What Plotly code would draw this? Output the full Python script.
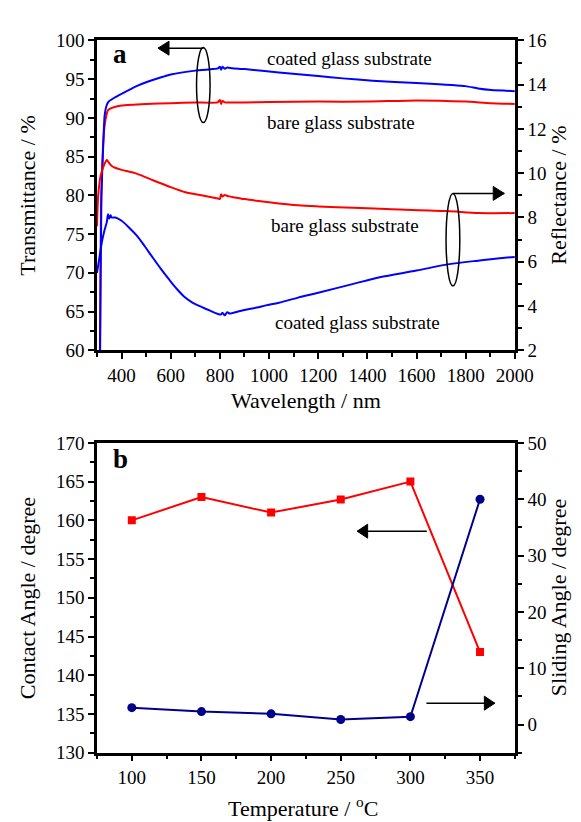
import plotly.graph_objects as go

# ---------------- Panel a data ----------------
wl_T_coated = [300, 312, 318, 325, 331, 338, 345, 351, 371, 400, 461, 500, 568, 600, 700, 770, 792, 800, 805, 810, 820, 830, 850, 900, 1040, 1200, 1300, 1421, 1600, 1799, 1850, 1905, 2000]
T_coated = [40, 60, 80, 86.2, 90.3, 91.5, 92.0, 92.2, 92.6, 93.1, 94.1, 94.6, 95.3, 95.6, 96.1, 96.3, 96.4, 96.6, 96.2, 96.6, 96.35, 96.5, 96.4, 96.3, 95.85, 95.4, 95.1, 94.8, 94.5, 94.1, 93.8, 93.6, 93.45]

wl_T_bare = [300, 310, 313, 316, 324, 331, 338, 345, 371, 400, 500, 600, 700, 790, 800, 805, 810, 820, 900, 1000, 1200, 1400, 1600, 1800, 1900, 2000]
T_bare = [40, 55, 60, 78, 86, 89, 90.3, 91.0, 91.4, 91.6, 91.8, 91.9, 92.0, 92.0, 92.3, 91.8, 92.2, 92.0, 92.0, 92.05, 92.1, 92.1, 92.25, 92.1, 91.9, 91.8]

wl_R_coated = [300, 310, 320, 330, 340, 345, 350, 355, 360, 375, 400, 430, 462, 495, 528, 560, 594, 625, 659, 690, 725, 760, 790, 805, 810, 820, 830, 840, 855, 900, 950, 987, 1040, 1118, 1200, 1343, 1450, 1600, 1721, 1850, 2000]
R_coated = [5.5, 6.2, 6.9, 7.4, 7.8, 8.15, 7.95, 8.1, 8.0, 8.0, 7.85, 7.55, 7.18, 6.69, 6.17, 5.68, 5.19, 4.77, 4.38, 4.14, 3.96, 3.79, 3.65, 3.62, 3.7, 3.58, 3.72, 3.66, 3.7, 3.82, 3.93, 4.03, 4.15, 4.38, 4.6, 5.0, 5.3, 5.6, 5.87, 6.05, 6.22]

wl_R_bare = [300, 305, 315, 330, 340, 344, 350, 360, 371, 400, 461, 530, 595, 660, 725, 792, 800, 805, 810, 820, 830, 850, 900, 1000, 1118, 1200, 1343, 1500, 1721, 1854, 2000]
R_bare = [7.6, 9.0, 9.9, 10.4, 10.6, 10.54, 10.45, 10.33, 10.26, 10.15, 9.98, 9.67, 9.39, 9.14, 9.0, 8.86, 8.84, 9.05, 8.95, 9.02, 8.97, 8.93, 8.83, 8.69, 8.55, 8.5, 8.44, 8.37, 8.29, 8.2, 8.2]

# ---------------- Panel b data ----------------
temperature = [100, 150, 200, 250, 300, 350]
contact_angle = [160, 163, 161, 162.7, 165, 143]
sliding_angle = [3.0, 2.3, 1.9, 0.9, 1.4, 40.0]

FONT = "Liberation Serif"
W, H = 581, 822


def px(x):
    return x / W


def py(y):
    return 1 - y / H


BLUE = "#0000FF"
RED = "#FF0000"
NAVY = "#00008B"

fig = go.Figure()

fig.add_trace(go.Scatter(x=wl_T_bare, y=T_bare, mode="lines", line=dict(color=RED, width=2, shape="spline", smoothing=0.5), xaxis="x", yaxis="y", showlegend=False))
fig.add_trace(go.Scatter(x=wl_T_coated, y=T_coated, mode="lines", line=dict(color=BLUE, width=2, shape="spline", smoothing=0.5), xaxis="x", yaxis="y", showlegend=False))
fig.add_trace(go.Scatter(x=wl_R_bare, y=R_bare, mode="lines", line=dict(color=RED, width=2, shape="spline", smoothing=0.8), xaxis="x", yaxis="y2", showlegend=False))
fig.add_trace(go.Scatter(x=wl_R_coated, y=R_coated, mode="lines", line=dict(color=BLUE, width=2, shape="spline", smoothing=0.9), xaxis="x", yaxis="y2", showlegend=False))

fig.add_trace(go.Scatter(x=temperature, y=contact_angle, mode="lines+markers",
                         line=dict(color=RED, width=2), marker=dict(symbol="square", size=8, color=RED),
                         xaxis="x2", yaxis="y3", showlegend=False))
fig.add_trace(go.Scatter(x=temperature, y=sliding_angle, mode="lines+markers",
                         line=dict(color=NAVY, width=2), marker=dict(symbol="circle", size=9, color=NAVY),
                         xaxis="x2", yaxis="y4", showlegend=False))

xdom = [px(92), px(524)]
top_dom = [py(341), py(23)]
bot_dom = [py(754), py(436)]

axis_common = dict(showline=True, linewidth=2.5, linecolor="black", ticks="outside", ticklen=6,
                   tickwidth=2, tickcolor="black", showgrid=False, zeroline=False,
                   tickfont=dict(family=FONT, size=19, color="black"))
minor_common = dict(ticks="outside", ticklen=4, tickwidth=1.5, tickcolor="black", showgrid=False)

fig.update_layout(
    width=W, height=H, autosize=False,
    margin=dict(l=0, r=0, t=0, b=0),
    paper_bgcolor="white", plot_bgcolor="white",
    font=dict(family=FONT, color="black"),
    xaxis=dict(domain=xdom, anchor="y", range=[300, 2000], tick0=0, dtick=200, mirror=True,
               minor=dict(dtick=100, **minor_common), **axis_common),
    yaxis=dict(domain=top_dom, anchor="x", range=[60, 100], tick0=60, dtick=5,
               minor=dict(dtick=2.5, **minor_common), **axis_common),
    yaxis2=dict(overlaying="y", anchor="x", side="right", range=[2, 16], tick0=2, dtick=2,
                minor=dict(dtick=1, **minor_common), **axis_common),
    xaxis2=dict(domain=xdom, anchor="y3", range=[75, 375], tick0=100, dtick=50, mirror=True,
                minor=dict(tick0=75, dtick=25, **minor_common), **axis_common),
    yaxis3=dict(domain=bot_dom, anchor="x2", range=[130, 170], tick0=130, dtick=5,
                minor=dict(dtick=2.5, **minor_common), **axis_common),
    yaxis4=dict(overlaying="y3", anchor="x2", side="right", range=[-5, 50], tick0=0, dtick=10,
                minor=dict(tick0=-5, dtick=5, **minor_common), **axis_common),
)

annotations = []
txt_font = dict(family=FONT, size=19, color="black")
title_font = dict(family=FONT, size=22, color="black")


def add_text(text, x, y, font, angle=0, xanchor="center"):
    annotations.append(dict(text=text, x=px(x), y=py(y), xref="paper", yref="paper",
                            showarrow=False, font=font, textangle=angle,
                            xanchor=xanchor, yanchor="middle"))


# panel labels
add_text("<b>a</b>", 116, 37, dict(family=FONT, size=27, color="black"))
add_text("<b>b</b>", 116, 453, dict(family=FONT, size=27, color="black"))

# curve labels
add_text("coated glass substrate", 353, 42, txt_font)
add_text("bare glass substrate", 344, 107, txt_font)
add_text("bare glass substrate", 348, 213, txt_font)
add_text("coated glass substrate", 361, 312, txt_font)

# axis titles
add_text("Transmittance / %", 20, 182, title_font, angle=-90)
add_text("Reflectance / %", 569, 182, title_font, angle=-90)
add_text("Wavelength / nm", 308, 393, title_font)
add_text("Contact Angle / degree", 20, 595, title_font, angle=-90)
add_text("Sliding Angle / degree", 569, 595, title_font, angle=-90)
add_text("Temperature / <sup>o</sup>C", 305, 810, title_font)

fig.update_layout(annotations=annotations)

ARROW = dict(color="black", width=1.5)


def arrow(xref, yref, x_tail, x_head, y, head_len, head_half_h):
    # shaft
    fig.add_shape(type="line", xref=xref, yref=yref, x0=x_tail, x1=x_head, y0=y, y1=y, line=ARROW)
    # filled head (triangle)
    sgn = 1 if x_head > x_tail else -1
    xb = x_head - sgn * head_len
    path = f"M {x_head},{y} L {xb},{y + head_half_h} L {xb},{y - head_half_h} Z"
    fig.add_shape(type="path", xref=xref, yref=yref, path=path,
                  fillcolor="black", line=dict(color="black", width=1))


# panel a arrows (left-axis data coords)
arrow("x", "y", 733, 548, 99.0, 45, 0.9)
arrow("x", "y", 1748, 1957, 80.25, 45, 0.9)
# panel b arrows
arrow("x2", "y3", 311.8, 261.8, 158.6, 7.5, 0.9)
arrow("x2", "y3", 311.5, 360.6, 136.4, 7.5, 0.9)

# ellipses in panel a
fig.add_shape(type="circle", xref="x", yref="y", x0=705, x1=760, y0=89.4, y1=99.1,
              line=dict(color="black", width=1.5))
fig.add_shape(type="circle", xref="x", yref="y", x0=1720, x1=1776, y0=68.3, y1=80.25,
              line=dict(color="black", width=1.5))

fig.write_html("out.html")
